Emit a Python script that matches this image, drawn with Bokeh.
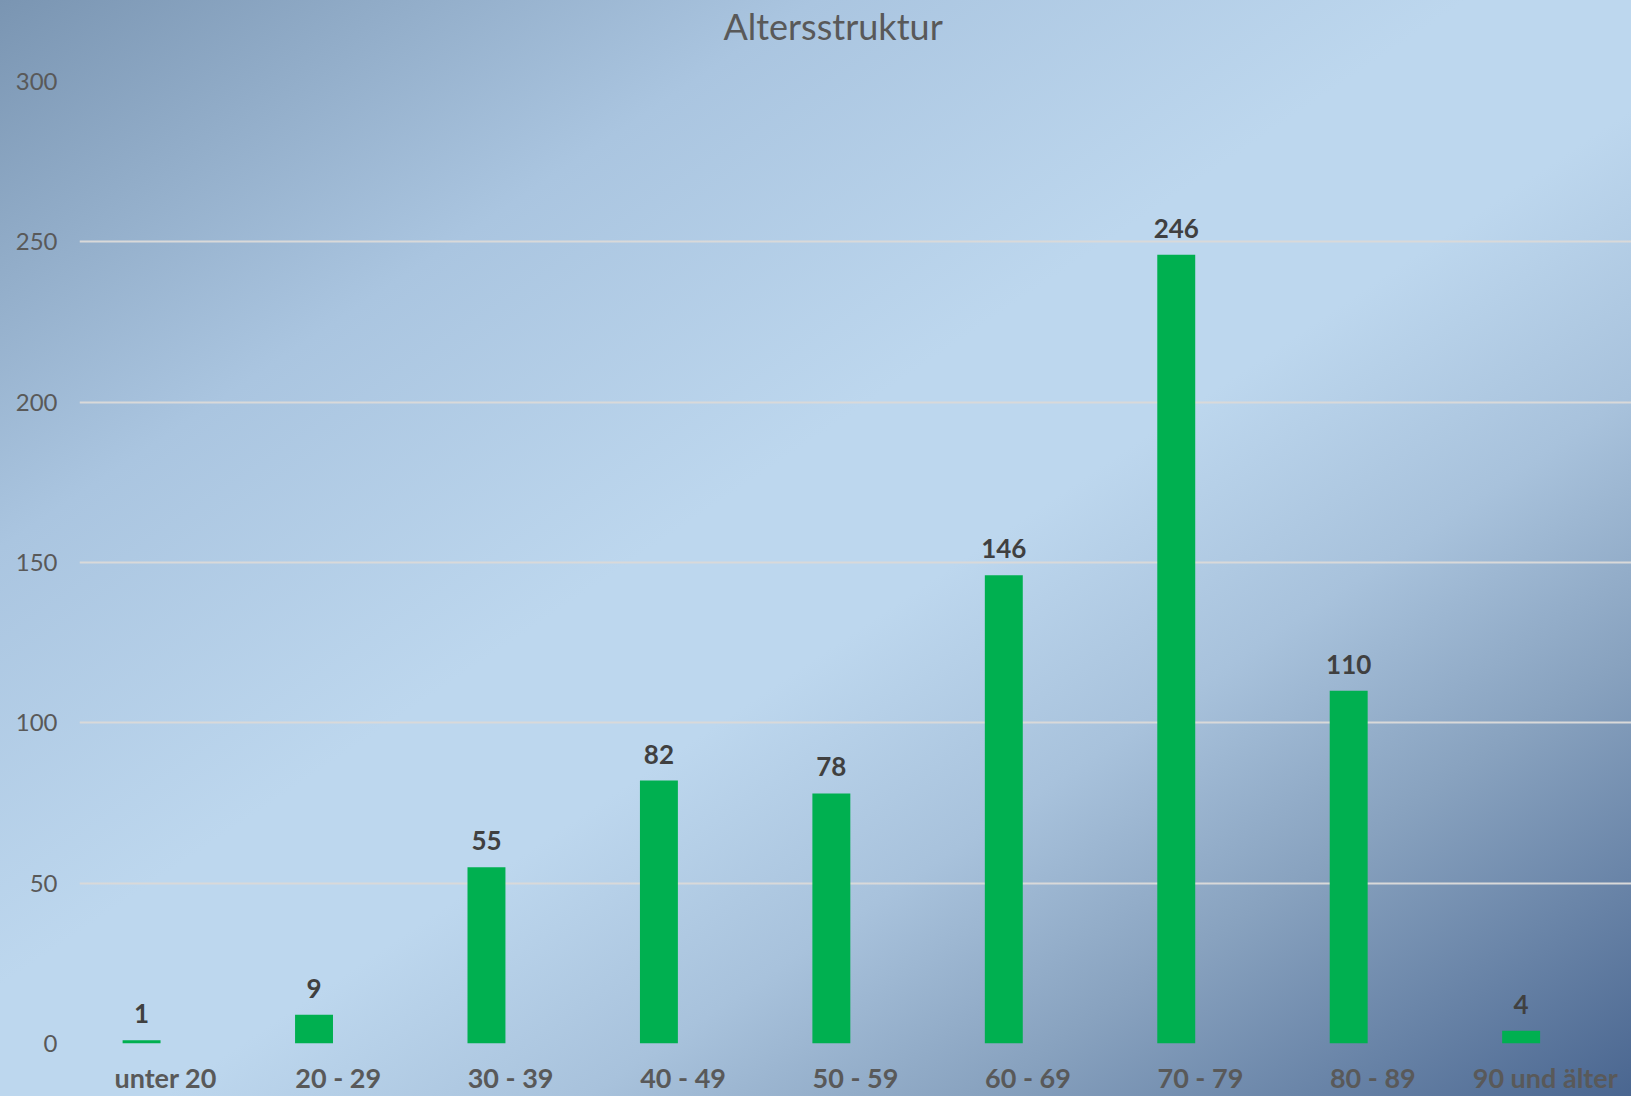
from bokeh.plotting import figure
from bokeh.models import (FactorRange, Range1d, FixedTicker, ColumnDataSource,
                          LabelSet, InlineStyleSheet, Title)
from bokeh.core.properties import value
from bokeh.transform import dodge
from bokeh.embed import file_html
from bokeh.resources import INLINE

categories = ["unter 20", "20 - 29", "30 - 39", "40 - 49", "50 - 59",
              "60 - 69", "70 - 79", "80 - 89", "90 und älter"]
values = [1, 9, 55, 82, 78, 146, 246, 110, 4]
y_ticks = [0, 50, 100, 150, 200, 250, 300]
title_text = "Altersstruktur"

src = ColumnDataSource(dict(cat=categories, val=values,
                            lbl=[str(v) for v in values]))

FONT = "Lato"

p = figure(width=1631, height=1096, output_backend="svg", toolbar_location=None,
           x_range=FactorRange(factors=categories), y_range=Range1d(0, 300),
           min_border_left=79, min_border_right=0, min_border_top=81,
           min_border_bottom=52)

p.stylesheets = [InlineStyleSheet(css=":host { background: linear-gradient(to bottom right, #7a95b2 0%, #aac5e0 25%, #bdd7ee 45%, #bdd7ee 55%, #a8c2dc 68%, #88a2bf 80%, #4a6690 100%); }")]
p.background_fill_alpha = 0
p.border_fill_alpha = 0
p.outline_line_color = None

# invisible spacer between the frame and the title (nearest the frame)
spacer = Title(text=" ", text_font=FONT, text_font_size="10px", standoff=15,
               text_color="#bdd7ee")
p.add_layout(spacer, "above")

main_title = Title(text=title_text, align="left", offset=644, vertical_align="top",
                   standoff=6, text_font=FONT, text_font_size="36px",
                   text_font_style="normal", text_color="#595959")
p.add_layout(main_title, "above")

p.vbar(x=dodge("cat", -0.14, range=p.x_range), top="val", width=0.22,
       source=src, fill_color="#00b050", line_color=None)

labels = LabelSet(x=dodge("cat", -0.14, range=p.x_range), y="val", text="lbl",
                  source=src, text_align="center", text_baseline="alphabetic",
                  y_offset=17, text_font=value(FONT), text_font_size=value("26px"),
                  text_font_style="bold", text_color="#404040")
p.add_layout(labels)

p.xgrid.grid_line_color = None
p.ygrid.grid_line_color = "#d9d9d9"
p.ygrid.grid_line_width = 2

p.yaxis.ticker = FixedTicker(ticks=y_ticks)
p.yaxis.axis_line_color = None
p.yaxis.major_tick_line_color = None
p.yaxis.minor_tick_line_color = None
p.yaxis.major_tick_out = 0
p.yaxis.major_tick_in = 0
p.yaxis.minor_tick_out = 0
p.yaxis.axis_label = None
p.yaxis.major_label_standoff = 22
p.yaxis.major_label_text_font = FONT
p.yaxis.major_label_text_font_size = "24px"
p.yaxis.major_label_text_color = "#595959"

p.xaxis.axis_line_color = None
p.xaxis.major_tick_line_color = None
p.xaxis.major_tick_out = 0
p.xaxis.major_tick_in = 0
p.xaxis.axis_label = None
p.xaxis.major_label_standoff = 17
p.xaxis.major_label_text_font = FONT
p.xaxis.major_label_text_font_size = "27px"
p.xaxis.major_label_text_font_style = "bold"
p.xaxis.major_label_text_color = "#595959"

open("out.html", "w").write(file_html(p, INLINE))
